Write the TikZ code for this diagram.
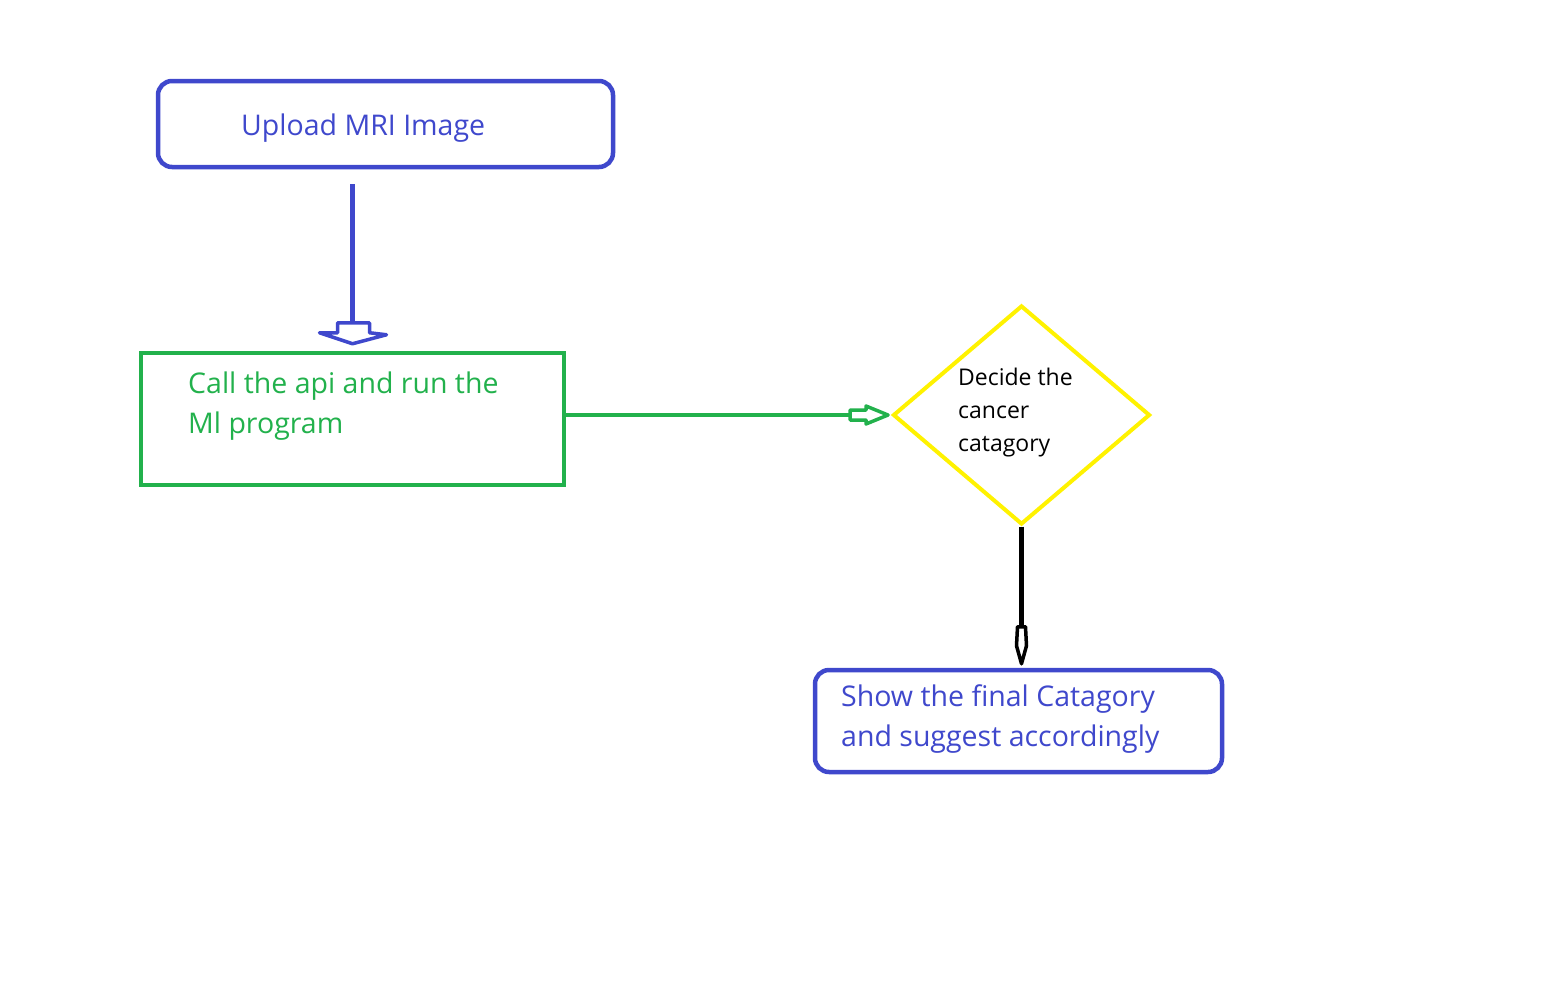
\documentclass[tikz,border=0pt]{standalone}
\usepackage{fontspec}
\setmainfont{Open Sans}
\usetikzlibrary{shapes.geometric}
\definecolor{paintblue}{HTML}{3F48CC}
\definecolor{paintgreen}{HTML}{22B14C}
\definecolor{paintyellow}{HTML}{FFF200}
\begin{document}
\begin{tikzpicture}[x=1pt,y=-1pt,
  bluebox/.style={draw=paintblue, line width=4.5pt, rounded corners=14pt, inner sep=0pt},
  greenbox/.style={draw=paintgreen, line width=4.5pt, inner sep=0pt},
  decidebox/.style={draw=paintyellow, line width=4pt, diamond, inner sep=0pt},
  boxtext/.style={anchor=north west, inner sep=0pt, align=left, font=\fontsize{28.5}{40}\selectfont},
  smalltext/.style={anchor=north west, inner sep=0pt, align=left, font=\fontsize{23}{33}\selectfont}]
\useasboundingbox (0,0) rectangle (1548,986);
\node[bluebox, minimum width=455pt, minimum height=86pt] (upload) at (385.5,124) {};
\node[greenbox, minimum width=423pt, minimum height=132pt] (call) at (352.5,419) {};
\node[decidebox, minimum width=257pt, minimum height=219pt] (decide) at (1021.5,415) {};
\node[bluebox, minimum width=407pt, minimum height=102pt] (show) at (1018.5,721) {};
\node[boxtext, text=paintblue] (uploadtext) at (241,114) {Upload MRI Image};
\node[boxtext, text=paintgreen] (calltext) at (188,372) {Call the api and run the\\Ml program};
\node[smalltext, text=black] (decidetext) at (958,368) {Decide the\\cancer\\catagory};
\node[boxtext, text=paintblue] (showtext) at (841,684) {Show the final Catagory\\and suggest accordingly};
% block arrows
\coordinate (tipA) at ([yshift=7pt]call.north);
\draw[paintblue, line width=4.5pt] ([yshift=-15pt]upload.south -| call.north) -- ([yshift=21pt]tipA);
\draw[paintblue, line width=3.5pt, line join=round] ([xshift=-15pt,yshift=21pt]tipA) -- ([xshift=17pt,yshift=21pt]tipA)
  -- ([xshift=17pt,yshift=11pt]tipA) -- ([xshift=34pt,yshift=9pt]tipA) -- (tipA)
  -- ([xshift=-33pt,yshift=11pt]tipA) -- ([xshift=-15pt,yshift=11pt]tipA) -- cycle;
\coordinate (tipB) at ([xshift=-3pt]decide.west);
\draw[paintgreen, line width=4.5pt] (call.east |- tipB) -- ([xshift=-38pt]tipB);
\draw[paintgreen, line width=3.5pt, line join=round] ([xshift=-38pt,yshift=5pt]tipB) -- ([xshift=-22pt,yshift=5pt]tipB)
  -- ([xshift=-22pt,yshift=9pt]tipB) -- (tipB) -- ([xshift=-22pt,yshift=-9pt]tipB)
  -- ([xshift=-22pt,yshift=-5pt]tipB) -- ([xshift=-38pt,yshift=-5pt]tipB) -- cycle;
\coordinate (tipC) at ([yshift=4pt]show.north -| decide.south);
\draw[black, line width=5pt] (decide.south) -- ([yshift=37pt]tipC);
\draw[black, line width=3.5pt, line join=round] ([xshift=-4pt,yshift=37pt]tipC) -- ([xshift=4pt,yshift=37pt]tipC)
  -- ([xshift=5pt,yshift=18pt]tipC) -- (tipC) -- ([xshift=-5pt,yshift=18pt]tipC) -- cycle;
\end{tikzpicture}
\end{document}
